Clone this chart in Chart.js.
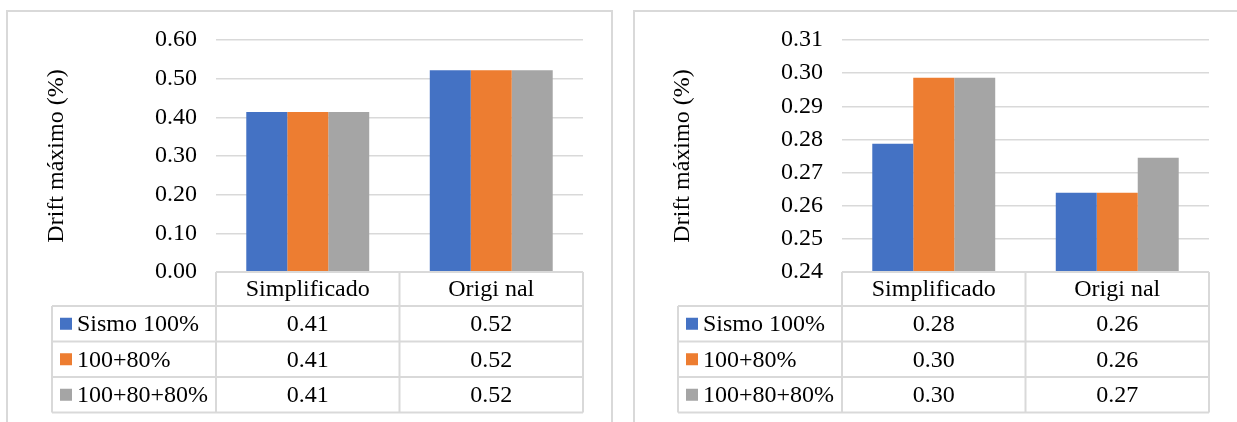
<!DOCTYPE html>
<html lang="es">
<head>
  <meta charset="UTF-8">
  <title>Drift máximo</title>
  <style>
    body { margin: 0; background: #fff; width: 1237px; height: 422px; overflow: hidden; position: relative; }
    .frame { position: absolute; border: 2px solid #d9d9d9; box-sizing: border-box; }
    canvas { position: absolute; top: 0; }
  </style>
</head>
<body>
  <div class="frame" style="left:6px; top:10px; width:607px; height:500px;"></div>
  <div class="frame" style="left:633px; top:10px; width:700px; height:500px;"></div>
  <canvas id="left" width="620" height="422" style="left:0"></canvas>
  <canvas id="right" width="617" height="422" style="left:620px"></canvas>
  <script src="https://cdn.jsdelivr.net/npm/chart.js"></script>
  <script>
    const categories = ['Simplificado', 'Origi nal'];
    const seriesNames = ['Sismo 100%', '100+80%', '100+80+80%'];
    const colors = ['#4472C4', '#ED7D31', '#A5A5A5'];

    // grafico izquierdo
    const leftSismo = [0.414, 0.522];
    const left10080 = [0.414, 0.522];
    const left100808 = [0.414, 0.522];
    // grafico derecho
    const rightSismo = [0.2787, 0.2639];
    const right10080 = [0.2986, 0.2639];
    const right100808 = [0.2986, 0.2745];

    const FONT = 'Liberation Serif, Times New Roman, serif';
    const GRID = '#d9d9d9';

    // tabla de datos debajo del grafico (estilo Excel)
    const dataTable = {
      id: 'dataTable',
      afterDraw(chart) {
        const ctx = chart.ctx;
        const area = chart.chartArea;
        const xs = chart.scales.x;
        const n = chart.data.labels.length;
        const colW = (area.right - area.left) / n;
        const legW = 164;
        const rows = [area.bottom, area.bottom + 34, area.bottom + 69.5, area.bottom + 105, area.bottom + 140.5];

        ctx.save();
        ctx.strokeStyle = GRID;
        ctx.lineWidth = 2;
        ctx.beginPath();
        // lineas horizontales
        ctx.moveTo(area.left, rows[0]); ctx.lineTo(area.right, rows[0]);
        for (let r = 1; r < rows.length; r++) {
          ctx.moveTo(area.left - legW, rows[r]); ctx.lineTo(area.right, rows[r]);
        }
        // lineas verticales
        ctx.moveTo(area.left - legW, rows[1]); ctx.lineTo(area.left - legW, rows[4]);
        for (let c = 0; c <= n; c++) {
          const x = area.left + c * colW;
          ctx.moveTo(x, rows[0]); ctx.lineTo(x, rows[4]);
        }
        ctx.stroke();

        ctx.fillStyle = '#000';
        ctx.font = '24px ' + FONT;
        ctx.textBaseline = 'middle';
        ctx.textAlign = 'center';
        chart.data.labels.forEach((lab, i) => {
          ctx.fillText(lab, xs.getPixelForValue(i), (rows[0] + rows[1]) / 2 + 1);
        });
        chart.data.datasets.forEach((ds, r) => {
          const y = (rows[r + 1] + rows[r + 2]) / 2 + 1;
          ctx.fillStyle = ds.backgroundColor;
          ctx.fillRect(area.left - legW + 8, y - 7, 12, 12);
          ctx.fillStyle = '#000';
          ctx.textAlign = 'left';
          ctx.fillText(ds.label, area.left - legW + 25, y);
          ctx.textAlign = 'center';
          ds.data.forEach((v, i) => {
            ctx.fillText(v.toFixed(2), xs.getPixelForValue(i), y);
          });
        });
        ctx.restore();
      }
    };

    function makeChart(id, sets, yMin, yMax, step, padLeft, padRight) {
      return new Chart(document.getElementById(id), {
        type: 'bar',
        data: {
          labels: categories,
          datasets: sets.map((d, i) => ({
            label: seriesNames[i],
            data: d,
            backgroundColor: colors[i],
            borderWidth: 0,
            categoryPercentage: 0.67,
            barPercentage: 1
          }))
        },
        options: {
          responsive: false,
          animation: false,
          devicePixelRatio: 1,
          layout: { padding: { left: padLeft, right: padRight, top: 40, bottom: 150 } },
          plugins: { legend: { display: false }, tooltip: { enabled: false } },
          scales: {
            x: { display: false },
            y: {
              min: yMin,
              max: yMax,
              border: { display: false },
              grid: { color: GRID, lineWidth: 1.5, drawTicks: false },
              ticks: {
                stepSize: step,
                padding: 19,
                color: '#000',
                font: { family: FONT, size: 24 },
                callback: v => Number(v).toFixed(2)
              },
              title: {
                display: true,
                text: 'Drift máximo (%)',
                color: '#000',
                padding: 0,
                font: { family: FONT, size: 24 }
              },
              afterFit: s => { s.width = 174; }
            }
          }
        },
        plugins: [dataTable]
      });
    }

    makeChart('left', [leftSismo, left10080, left100808], 0, 0.6, 0.1, 42, 37);
    makeChart('right', [rightSismo, right10080, right100808], 0.24, 0.31, 0.01, 48, 28);
  </script>
</body>
</html>
